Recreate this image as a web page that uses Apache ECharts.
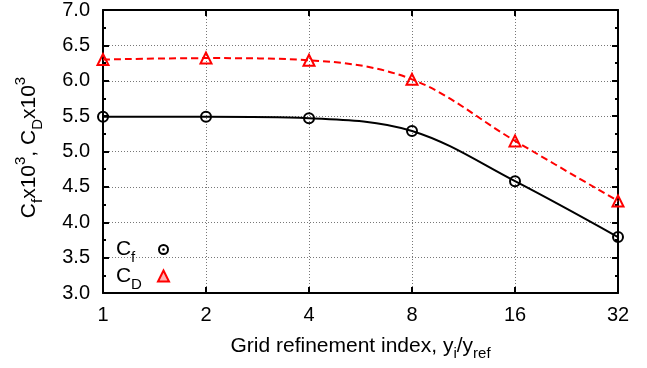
<!DOCTYPE html>
<html><head><meta charset="utf-8">
<script src="https://cdn.jsdelivr.net/npm/echarts@6/dist/echarts.min.js"></script>
<style>html,body{margin:0;padding:0;background:#fff}#c{width:647px;height:368px}</style>
</head><body><div id="c"></div>
<script>
const gridIndex = [1, 2, 4, 8, 16, 32];
const cf = [5.49, 5.49, 5.47, 5.29, 4.58, 3.79];
const cd = [6.30, 6.32, 6.29, 6.02, 5.15, 4.30];
const yTicks = [3.0, 3.5, 4.0, 4.5, 5.0, 5.5, 6.0, 6.5, 7.0];

const FONT = "'Liberation Sans', Arial, sans-serif";
function mkRich(lh, fs, ss) {
  return {
    m: {fontSize: fs, fontFamily: FONT, color: '#000', lineHeight: lh, verticalAlign: 'middle'},
    s: {fontSize: ss, fontFamily: FONT, color: '#000', lineHeight: lh, verticalAlign: 'bottom', padding: [0,0,-3,0]},
    p: {fontSize: ss, fontFamily: FONT, color: '#000', lineHeight: lh, verticalAlign: 'top', padding: [-3,0,0,0]},
    c: {fontSize: fs, fontFamily: FONT, color: '#000', lineHeight: lh, verticalAlign: 'middle', width: 15, align: 'left'},
    t: {fontSize: ss, fontFamily: FONT, color: '#000', lineHeight: lh, verticalAlign: 'bottom', padding: [0,0,-3,0], width: 22, align: 'left'}
  };
}
const chart = echarts.init(document.getElementById('c'), null, {renderer: 'canvas'});
const axisLine = {show: true, lineStyle: {color: '#000', width: 2}};
const tick = {show: true, inside: true, length: 6, lineStyle: {color: '#000', width: 2}};
const minor = {show: true, splitNumber: 2, length: 3, lineStyle: {color: '#000', width: 2}};
const split = {show: true, lineStyle: {type: [1, 2], color: '#777', width: 1}};
const ringPath = 'path://M0,-5A5,5 0 1,1 0,5A5,5 0 1,1 0,-5ZM0,-3.2A3.2,3.2 0 1,0 0,3.2A3.2,3.2 0 1,0 0,-3.2ZM0,-1.2A1.2,1.2 0 1,1 0,1.2A1.2,1.2 0 1,1 0,-1.2Z';
chart.setOption({
  animation: false,
  backgroundColor: '#fff',
  grid: {left: 103, right: 29, top: 10, bottom: 75, outerBoundsMode: 'none', containLabel: false},
  legend: {
    orient: 'vertical', left: 116, top: 239, align: 'right', itemGap: 0, padding: 0,
    itemWidth: 11, itemHeight: 11, selectedMode: false,
    textStyle: {rich: mkRich(26, 21, 15)},
    formatter: n => n === 'Cf' ? '{c|C}{t|f}' : '{c|C}{t|D}',
    data: [
      {name: 'Cf', icon: ringPath, itemStyle: {color: '#000', borderWidth: 0}},
      {name: 'CD', icon: 'triangle', itemStyle: {color: 'rgba(255,0,0,0.3)', borderColor: '#f00', borderWidth: 2}}
    ]
  },
  xAxis: [{
    type: 'log', logBase: 2, min: gridIndex[0], max: gridIndex[gridIndex.length-1],
    axisLine: axisLine, axisTick: tick,
    axisLabel: {fontSize: 20, fontFamily: FONT, color: '#000', margin: 12, formatter: v => String(Math.round(v))},
    splitLine: split,
    name: '{m|Grid refinement index, y}{s|i}{m|/y}{s|ref}',
    nameLocation: 'middle', nameGap: 41,
    nameTextStyle: {rich: mkRich(24, 21, 15)}
  }, {
    type: 'log', logBase: 2, min: gridIndex[0], max: gridIndex[gridIndex.length-1], position: 'top',
    axisLine: axisLine, axisTick: tick,
    axisLabel: {show: false}, splitLine: {show: false}
  }],
  yAxis: [{
    type: 'value', min: yTicks[0], max: yTicks[yTicks.length-1], interval: 0.5,
    axisLine: axisLine, axisTick: tick, minorTick: minor,
    axisLabel: {fontSize: 20, fontFamily: FONT, color: '#000', margin: 13, formatter: v => v.toFixed(1)},
    splitLine: split,
    name: '{m|C}{s|f}{m|x10}{p|3}{m|, C}{s|D}{m|x10}{p|3}',
    nameLocation: 'middle', nameGap: 61, nameRotate: 90,
    nameTextStyle: {rich: mkRich(26, 21, 15), padding: [0, 0, 0, 8]}
  }, {
    type: 'value', min: yTicks[0], max: yTicks[yTicks.length-1], interval: 0.5, position: 'right',
    axisLine: axisLine, axisTick: tick, minorTick: minor,
    axisLabel: {show: false}, splitLine: {show: false}
  }],
  series: [{
    name: 'Cf', type: 'line', smooth: 0.35,
    data: gridIndex.map((x, i) => [x, cf[i]]),
    symbol: 'circle', symbolSize: 10,
    itemStyle: {color: 'rgba(0,0,0,0)', borderColor: '#000', borderWidth: 2},
    lineStyle: {color: '#000', width: 2}
  }, {
    name: 'CD', type: 'line', smooth: 0.35,
    data: gridIndex.map((x, i) => [x, cd[i]]),
    symbol: 'triangle', symbolSize: 11,
    itemStyle: {color: 'rgba(0,0,0,0)', borderColor: '#f00', borderWidth: 2},
    lineStyle: {color: '#f00', width: 2, type: [7, 4]}
  }]
});
</script></body></html>
